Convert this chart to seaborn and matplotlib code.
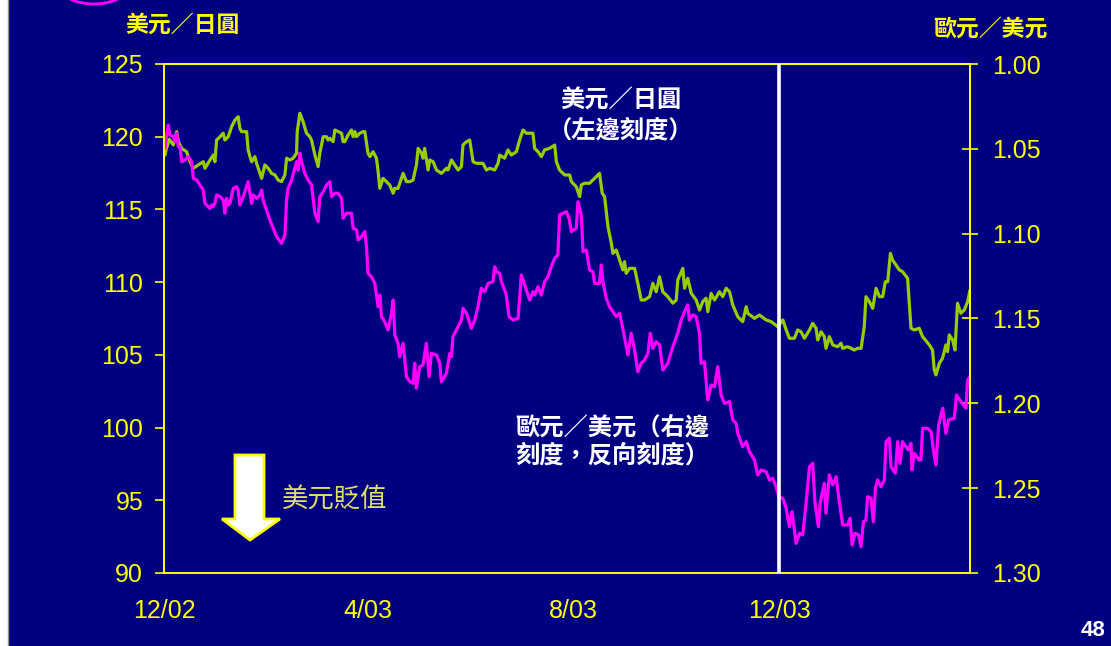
import numpy as np
import pandas as pd
import matplotlib
matplotlib.use("Agg")
import matplotlib.pyplot as plt
import seaborn as sns
from matplotlib.patches import Polygon, Ellipse, Rectangle
from matplotlib.lines import Line2D

# ---------------- data ----------------
start_date = "2002-12-01"

# USD/JPY (left axis) - days after 1 Dec 2002
usdjpy_day = [0.6, 1.2, 3.1, 5.5, 7.5, 8.5, 10.5, 13.4, 15.4, 17.4, 20.3, 23.3, 24.3, 27.3, 29.2, 30.2,
              31.2, 33.2, 35.1, 36.1, 38.1, 40.1, 42.1, 44.0, 45.0, 46.0, 49.0, 49.9, 51.0, 52.0, 53.9,
              54.9, 56.9, 57.9, 59.8, 61.8, 63.8, 65.8, 67.7, 69.7, 71.7, 72.7, 74.7, 76.6, 78.6, 79.0,
              80.6, 82.5, 84.5, 86.5, 87.5, 89.5, 91.4, 92.4, 94.4, 96.4, 97.3, 98.4, 100.3, 101.3,
              103.3, 105.3, 106.2, 107.2, 109.2, 111.2, 112.2, 113.2, 114.2, 116.1, 118.1, 119.1, 121.0,
              122.1, 124.0, 126.0, 127.0, 128.0, 129.9, 131.9, 133.9, 135.9, 136.9, 138.8, 140.8, 141.8,
              143.8, 145.8, 147.7, 149.7, 150.7, 152.7, 153.6, 154.6, 156.6, 157.6, 159.6, 161.6, 164.5,
              167.5, 168.4, 170.5, 172.4, 174.4, 176.4, 177.3, 179.4, 181.3, 183.3, 185.3, 189.2, 191.2,
              193.2, 196.1, 198.1, 199.1, 202.0, 204.0, 206.0, 209.0, 210.9, 212.9, 214.9, 216.9, 218.8,
              219.8, 221.8, 223.8, 225.7, 228.7, 231.7, 232.7, 234.6, 237.6, 240.6, 241.6, 244.5, 246.5,
              247.5, 249.4, 252.4, 255.4, 258.3, 259.9, 261.3, 263.3, 265.3, 266.2, 268.2, 270.2, 272.1,
              273.1, 274.1, 276.1, 279.1, 281.0, 283.0, 285.0, 288.0, 289.9, 291.9, 293.9, 295.8, 298.8,
              301.8, 303.8, 304.7, 307.7, 308.7, 310.6, 312.7, 315.6, 317.6, 319.5, 321.5, 322.5, 324.5,
              326.5, 329.4, 331.4, 333.4, 335.4, 337.3, 340.3, 343.2, 345.3, 346.2, 350.2, 353.1, 357.1,
              360.1, 364.0, 367.0, 369.0, 370.9, 373.9, 375.8, 377.8, 379.8, 382.8, 384.7, 386.7, 387.7,
              389.7, 391.6, 392.6, 394.6, 396.6, 399.5, 401.5, 402.5, 405.4, 407.5, 409.4, 411.4, 413.4,
              415.3, 416.3, 418.3, 420.3, 422.3, 424.3, 426.2, 427.8, 429.2, 430.8, 432.1, 434.1, 436.1,
              438.0, 441.0, 443.0, 445.0, 447.9, 449.9, 453.9, 455.8, 456.8, 457.8, 459.8, 461.7, 463.7,
              464.7, 465.7, 467.7, 469.1, 470.6, 472.6, 474.6, 476.6, 478.0]
usdjpy = [118.74, 119.09, 119.82, 119.43, 120.35, 119.66, 119.20, 118.97, 118.28, 117.83, 118.06, 118.28,
          117.83, 118.40, 118.74, 118.28, 119.77, 120.00, 120.24, 119.77, 120.00, 120.69, 121.15, 121.38,
          120.58, 120.35, 120.35, 119.09, 118.63, 118.28, 118.63, 118.17, 117.48, 117.14, 118.06, 117.83,
          117.48, 117.37, 117.02, 116.91, 117.37, 118.52, 118.40, 118.52, 118.86, 120.35, 121.61, 121.03,
          120.24, 120.00, 119.77, 118.74, 117.94, 118.86, 120.00, 120.00, 119.77, 119.89, 119.66, 120.46,
          120.35, 120.24, 119.66, 119.66, 120.12, 120.46, 120.00, 120.35, 120.00, 120.24, 120.35, 120.35,
          118.86, 118.63, 118.97, 118.52, 117.59, 116.45, 117.14, 116.91, 116.68, 116.11, 116.45, 116.45,
          117.14, 117.48, 116.91, 116.91, 117.02, 118.06, 119.20, 118.86, 118.52, 119.20, 117.71, 118.40,
          118.28, 117.71, 117.48, 117.83, 117.71, 118.40, 118.06, 117.71, 117.94, 119.43, 119.66, 119.77,
          118.28, 118.17, 118.17, 117.71, 117.83, 117.71, 118.17, 118.74, 118.52, 119.09, 118.74, 118.97,
          119.77, 120.46, 120.24, 120.24, 120.24, 119.20, 118.97, 118.63, 119.09, 119.20, 119.43, 118.28,
          117.71, 117.37, 117.37, 116.91, 116.56, 115.88, 116.68, 116.80, 116.80, 117.14, 117.48, 116.11,
          115.88, 113.81, 112.67, 111.98, 112.21, 111.52, 110.84, 111.41, 110.61, 110.95, 110.95, 109.92,
          108.77, 108.77, 109.00, 109.92, 109.34, 110.37, 109.34, 109.00, 108.55, 108.77, 110.15, 110.95,
          109.58, 110.26, 109.23, 108.77, 108.08, 108.66, 108.89, 107.97, 109.23, 108.77, 109.34, 109.00,
          109.58, 109.34, 108.43, 107.62, 107.28, 108.31, 107.86, 107.51, 107.74, 107.40, 107.28, 106.94,
          107.40, 106.71, 106.14, 106.14, 106.71, 106.59, 106.14, 106.71, 107.17, 106.83, 106.02, 106.59,
          106.25, 105.45, 106.25, 105.68, 105.56, 105.80, 105.45, 105.56, 105.45, 105.33, 105.45, 105.45,
          106.94, 109.00, 108.66, 108.20, 109.58, 109.00, 109.00, 110.03, 110.03, 111.98, 111.52, 111.18,
          110.84, 110.72, 110.26, 106.83, 106.71, 106.83, 106.25, 105.68, 105.33, 103.96, 103.62, 104.42,
          104.76, 105.68, 105.22, 106.37, 106.02, 105.33, 108.55, 107.86, 108.08, 108.66, 109.46]

# EUR/USD (right axis, inverted)
eurusd_day = [0.6, 2.5, 3.6, 5.5, 6.5, 7.5, 8.5, 9.5, 10.5, 12.4, 14.4, 16.4, 17.4, 19.4, 21.3, 23.3,
              24.3, 26.2, 27.3, 28.3, 29.2, 30.2, 31.2, 33.2, 35.1, 36.1, 37.1, 38.1, 39.1, 41.1, 43.1,
              44.0, 45.0, 47.0, 49.9, 52.0, 52.9, 54.9, 56.9, 57.9, 58.8, 60.8, 62.8, 64.8, 66.8, 69.7,
              71.7, 72.7, 73.6, 75.7, 77.6, 78.6, 79.6, 80.6, 81.6, 83.5, 85.5, 87.5, 89.5, 91.4, 92.4,
              94.4, 96.4, 98.4, 99.4, 101.3, 103.3, 105.3, 106.2, 108.2, 111.2, 112.2, 114.2, 115.1,
              117.1, 119.1, 120.1, 121.0, 123.0, 125.0, 127.0, 128.0, 129.0, 130.9, 132.9, 134.9, 135.9,
              136.9, 138.8, 139.8, 141.8, 143.8, 145.8, 147.7, 148.7, 149.7, 151.7, 153.6, 155.6, 157.2,
              158.6, 161.6, 163.5, 164.5, 167.5, 169.5, 170.5, 171.4, 173.4, 175.4, 176.4, 177.3, 179.4,
              182.3, 184.3, 186.2, 188.2, 190.2, 192.2, 195.1, 196.1, 197.1, 199.1, 200.1, 202.0, 203.0,
              204.6, 207.0, 210.0, 211.9, 213.9, 216.9, 218.8, 219.8, 221.8, 223.8, 225.7, 227.7, 229.7,
              231.7, 233.6, 234.6, 236.6, 238.6, 240.2, 241.6, 244.5, 245.5, 247.5, 248.5, 250.5, 252.4,
              254.4, 255.4, 258.3, 259.3, 260.3, 262.3, 264.2, 266.2, 268.2, 270.2, 272.1, 275.1, 277.1,
              279.1, 281.0, 283.0, 285.0, 287.0, 288.4, 289.9, 291.9, 293.9, 295.8, 298.8, 301.8, 304.7,
              306.7, 308.7, 310.6, 311.6, 313.6, 315.6, 317.6, 318.5, 320.5, 322.5, 324.5, 326.5, 328.4,
              330.4, 332.4, 335.4, 337.3, 339.3, 340.3, 343.2, 345.3, 347.2, 350.2, 352.1, 354.1, 357.1,
              359.1, 361.0, 363.0, 364.6, 367.0, 369.0, 370.9, 372.5, 374.9, 376.9, 378.8, 380.8, 382.8,
              384.7, 386.1, 388.1, 389.1, 391.6, 392.6, 394.6, 396.6, 398.6, 400.1, 402.5, 405.4, 406.9,
              408.1, 409.8, 412.0, 413.4, 414.8, 416.3, 417.3, 419.3, 420.7, 421.9, 423.2, 425.2, 427.2,
              428.2, 430.2, 431.2, 433.7, 435.1, 436.5, 438.0, 440.0, 441.6, 443.0, 443.6, 445.0, 447.9,
              448.9, 449.9, 452.9, 454.9, 456.3, 457.8, 459.4, 461.8, 463.7, 465.3, 468.7, 470.0, 472.6,
              475.6, 476.6, 478.0]
eurusd = [1.0497, 1.0360, 1.0418, 1.0428, 1.0458, 1.0408, 1.0487, 1.0487, 1.0576, 1.0566, 1.0546, 1.0576,
          1.0674, 1.0684, 1.0713, 1.0743, 1.0821, 1.0841, 1.0851, 1.0831, 1.0841, 1.0821, 1.0772, 1.0782,
          1.0802, 1.0880, 1.0792, 1.0831, 1.0821, 1.0733, 1.0723, 1.0743, 1.0831, 1.0782, 1.0694, 1.0821,
          1.0772, 1.0792, 1.0772, 1.0743, 1.0802, 1.0861, 1.0919, 1.0968, 1.1018, 1.1057, 1.1008, 1.0802,
          1.0733, 1.0684, 1.0615, 1.0576, 1.0625, 1.0526, 1.0576, 1.0644, 1.0684, 1.0713, 1.0880, 1.0929,
          1.0782, 1.0753, 1.0713, 1.0694, 1.0782, 1.0762, 1.0762, 1.0792, 1.0909, 1.0880, 1.0880, 1.0968,
          1.0978, 1.1037, 1.1018, 1.0988, 1.1077, 1.1234, 1.1254, 1.1293, 1.1430, 1.1362, 1.1489, 1.1519,
          1.1568, 1.1469, 1.1391, 1.1597, 1.1646, 1.1725, 1.1646, 1.1843, 1.1873, 1.1882, 1.1764, 1.1911,
          1.1784, 1.1774, 1.1646, 1.1843, 1.1705, 1.1715, 1.1764, 1.1873, 1.1823, 1.1705, 1.1725, 1.1607,
          1.1568, 1.1528, 1.1509, 1.1440, 1.1469, 1.1558, 1.1509, 1.1430, 1.1322, 1.1342, 1.1293, 1.1283,
          1.1195, 1.1224, 1.1234, 1.1283, 1.1332, 1.1362, 1.1489, 1.1509, 1.1499, 1.1244, 1.1303, 1.1391,
          1.1342, 1.1362, 1.1313, 1.1362, 1.1283, 1.1254, 1.1195, 1.1145, 1.1126, 1.0890, 1.0880, 1.0871,
          1.0909, 1.0988, 1.0968, 1.0812, 1.0890, 1.1106, 1.1096, 1.1214, 1.1224, 1.1293, 1.1293, 1.1185,
          1.1283, 1.1381, 1.1430, 1.1460, 1.1489, 1.1469, 1.1558, 1.1715, 1.1587, 1.1686, 1.1814, 1.1764,
          1.1745, 1.1705, 1.1587, 1.1676, 1.1637, 1.1656, 1.1804, 1.1764, 1.1666, 1.1587, 1.1509, 1.1460,
          1.1420, 1.1509, 1.1479, 1.1489, 1.1587, 1.1764, 1.1755, 1.1980, 1.1892, 1.1902, 1.1784, 1.1951,
          1.2000, 1.1990, 1.2098, 1.2118, 1.2177, 1.2256, 1.2226, 1.2285, 1.2334, 1.2422, 1.2393, 1.2403,
          1.2452, 1.2442, 1.2491, 1.2550, 1.2560, 1.2619, 1.2727, 1.2639, 1.2825, 1.2766, 1.2776, 1.2589,
          1.2374, 1.2354, 1.2589, 1.2727, 1.2589, 1.2471, 1.2648, 1.2422, 1.2481, 1.2432, 1.2550, 1.2717,
          1.2717, 1.2678, 1.2835, 1.2766, 1.2776, 1.2845, 1.2698, 1.2688, 1.2550, 1.2560, 1.2698, 1.2501,
          1.2452, 1.2491, 1.2452, 1.2226, 1.2206, 1.2374, 1.2412, 1.2226, 1.2354, 1.2226, 1.2256, 1.2275,
          1.2236, 1.2393, 1.2295, 1.2334, 1.2334, 1.2147, 1.2147, 1.2167, 1.2275, 1.2363, 1.2128, 1.2029,
          1.2177, 1.2098, 1.2088, 1.1951, 1.1990, 1.2029, 1.1863, 1.1843]

x_tick_dates = ["2002-12-01", "2003-04-01", "2003-08-01", "2003-12-01"]
x_tick_labels = ["12/02", "4/03", "8/03", "12/03"]
left_ticks = [90, 95, 100, 105, 110, 115, 120, 125]
right_ticks = [1.00, 1.05, 1.10, 1.15, 1.20, 1.25, 1.30]
x_end_day = 478
marker_date = "2003-12-01"

left_title = "美元／日圓"
right_title = "歐元／美元"
jpy_note = ["美元／日圓", "（左邊刻度）"]
eur_note = ["歐元／美元（右邊", "刻度，反向刻度）"]
arrow_note = "美元貶值"
page_no = "48"

# ---------------- styling ----------------
NAVY = "#000080"
YEL = "#FFFF00"
GREEN = "#99CC00"
MAG = "#FF00FF"
CJK = ["Noto Sans CJK TC", "DejaVu Sans"]
LAT = ["Liberation Sans", "DejaVu Sans"]

sns.set_style("dark")
plt.rcParams["font.family"] = LAT

W, H = 1111, 646
def fx(x): return x / W
def fy(y): return 1 - y / H

fig = plt.figure(figsize=(W / 100, H / 100), dpi=100, facecolor=NAVY)
ax = fig.add_axes([fx(164), 1 - 573 / H, (970 - 164) / W, (573 - 64) / H])
ax.set_facecolor(NAVY)

t0 = pd.Timestamp(start_date)
df_jpy = pd.DataFrame({"date": t0 + pd.to_timedelta(usdjpy_day, unit="D"), "usdjpy": usdjpy})
df_eur = pd.DataFrame({"date": t0 + pd.to_timedelta(eurusd_day, unit="D"), "eurusd": eurusd})

sns.lineplot(data=df_jpy, x="date", y="usdjpy", ax=ax, color=GREEN, lw=2.3, estimator=None)
ax2 = ax.twinx()
ax2.set_facecolor("none")
sns.lineplot(data=df_eur, x="date", y="eurusd", ax=ax2, color=MAG, lw=2.3, estimator=None)

ax.set_ylim(90, 125)
ax2.set_ylim(1.30, 1.00)
ax.set_xlim(t0, t0 + pd.Timedelta(days=x_end_day))
ax.grid(False); ax2.grid(False)

ax.set_yticks(left_ticks)
ax.set_yticklabels([str(v) for v in left_ticks])
ax2.set_yticks(right_ticks)
ax2.set_yticklabels([f"{v:.2f}" for v in right_ticks])
ax.set_xticks(pd.to_datetime(x_tick_dates))
ax.set_xticklabels(x_tick_labels)
for a in (ax, ax2):
    a.set_xlabel("")
    a.set_ylabel("")
    for s in a.spines.values():
        s.set_visible(True)
        s.set_color(YEL)
        s.set_linewidth(1.3)

ax.tick_params(axis="y", direction="out", length=6.5, width=1.2, color=YEL,
               labelcolor=YEL, labelsize=18, pad=8.5)
ax.tick_params(axis="x", direction="out", length=6, width=1.2, color=YEL,
               labelcolor=YEL, labelsize=18, pad=13)
ax2.tick_params(axis="y", direction="inout", length=12, width=1.2, color=YEL,
                labelcolor=YEL, labelsize=18, pad=10)

ax2.axvline(pd.Timestamp(marker_date), color="white", lw=2.6, zorder=10)

# titles
fig.text(fx(182.5), fy(25.5), left_title, color=YEL, fontsize=16.5, fontweight="bold",
         family=CJK, ha="center", va="center")
fig.text(fx(990.5), fy(29.5), right_title, color=YEL, fontsize=16.5, fontweight="bold",
         family=CJK, ha="center", va="center")

# annotations
fig.text(fx(621), fy(101), jpy_note[0], color="white", fontsize=17.5, fontweight="bold",
         family=CJK, ha="center", va="center")
fig.text(fx(621), fy(130), jpy_note[1], color="white", fontsize=17.5, fontweight="bold",
         family=CJK, ha="center", va="center")
fig.text(fx(515), fy(427), eur_note[0], color="white", fontsize=17.5, fontweight="bold",
         family=CJK, ha="left", va="center")
fig.text(fx(515), fy(456), eur_note[1], color="white", fontsize=17.5, fontweight="bold",
         family=CJK, ha="left", va="center")
fig.text(fx(335), fy(500), arrow_note, color="#E0E060", fontsize=19,
         family=CJK, ha="center", va="center")
fig.text(fx(1093), fy(631), page_no, color="white", fontsize=16, fontweight="bold",
         family=LAT, ha="center", va="center")

# down arrow
arrow_px = [(235, 455), (264, 455), (264, 519), (280, 519), (250, 540), (222, 519), (235, 519)]
fig.add_artist(Polygon([(fx(x), fy(y)) for x, y in arrow_px], closed=True,
                       transform=fig.transFigure, facecolor="white", edgecolor=YEL, lw=2))

# decorative bits of the slide
fig.add_artist(Ellipse((fx(94), fy(-15)), 70 / W, 38 / H, transform=fig.transFigure,
                       fill=False, edgecolor=MAG, lw=2))
fig.add_artist(Rectangle((0, 0), 7 / W, 1, transform=fig.transFigure, color="white"))
fig.add_artist(Line2D([7.5 / W, 7.5 / W], [0, 1], transform=fig.transFigure, color="#909090", lw=1))

fig.savefig("out.png", dpi=100, facecolor=NAVY)
